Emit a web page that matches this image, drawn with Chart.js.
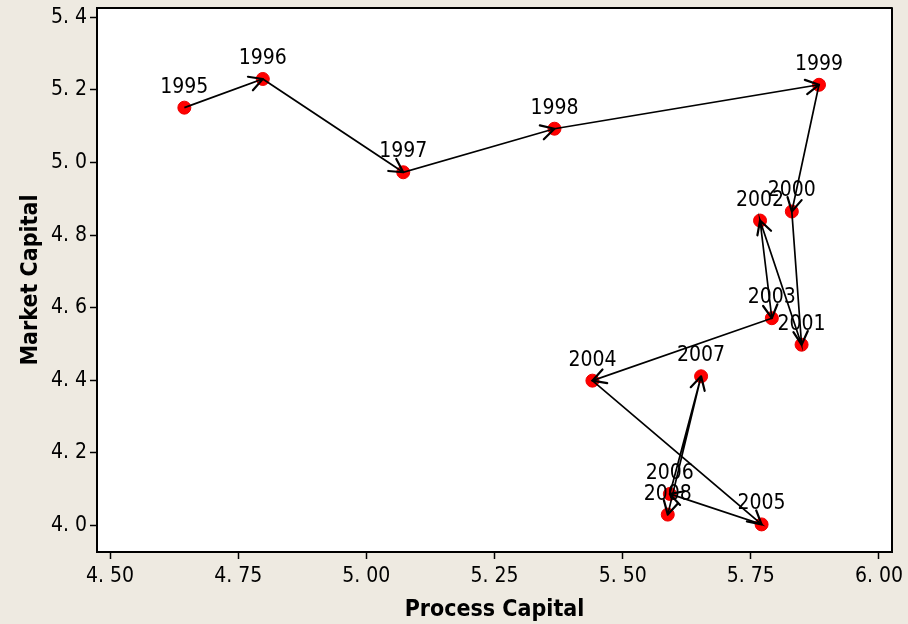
<!DOCTYPE html>
<html>
<head>
<meta charset="utf-8">
<script src="https://cdn.jsdelivr.net/npm/chart.js@4"></script>
<style>
  html, body { margin: 0; padding: 0; background: #eeeae1; }
  #wrap { width: 908px; height: 624px; }
</style>
</head>
<body>
<div id="wrap"><canvas id="chart" width="908" height="624"></canvas></div>
<script>
// values
const years = ["1995", "1996", "1997", "1998", "1999", "2000", "2001",
               "2002", "2003", "2004", "2005", "2006", "2007", "2008"];
const processCapital = [4.645, 4.798, 5.072, 5.367, 5.883, 5.830, 5.849,
                        5.768, 5.791, 5.441, 5.771, 5.592, 5.653, 5.588];
const marketCapital = [5.151, 5.230, 4.973, 5.093, 5.214, 4.865, 4.498,
                       4.840, 4.571, 4.399, 4.003, 4.087, 4.411, 4.030];
const xTicks = [4.50, 4.75, 5.00, 5.25, 5.50, 5.75, 6.00];
const yTicks = [4.0, 4.2, 4.4, 4.6, 4.8, 5.0, 5.2, 5.4];

const points = years.map((y, i) => ({ x: processCapital[i], y: marketCapital[i] }));

const FONT = "'DejaVu Sans Condensed', 'DejaVu Sans', sans-serif";
const LABEL_FONT = "'Liberation Sans Narrow', 'DejaVu Sans Condensed', sans-serif";

// white plot area, box border, arrowheads and year labels
const decor = {
  id: "decor",
  beforeDatasetsDraw(chart) {
    const { ctx, chartArea: a } = chart;
    ctx.save();
    ctx.fillStyle = "#ffffff";
    ctx.fillRect(a.left, a.top, a.right - a.left, a.bottom - a.top);
    ctx.restore();
  },
  afterDatasetsDraw(chart) {
    const { ctx, chartArea: a } = chart;
    const pts = chart.getDatasetMeta(0).data;

    ctx.save();
    // arrowheads
    ctx.strokeStyle = "#000";
    ctx.lineWidth = 2.2;
    ctx.lineCap = "round";
    ctx.lineJoin = "round";
    for (let i = 1; i < pts.length; i++) {
      const p0 = pts[i - 1], p1 = pts[i];
      const ang = Math.atan2(p1.y - p0.y, p1.x - p0.x);
      const len = 15, spread = 0.5;
      ctx.beginPath();
      ctx.moveTo(p1.x - len * Math.cos(ang - spread), p1.y - len * Math.sin(ang - spread));
      ctx.lineTo(p1.x, p1.y);
      ctx.lineTo(p1.x - len * Math.cos(ang + spread), p1.y - len * Math.sin(ang + spread));
      ctx.stroke();
    }

    // year labels
    ctx.fillStyle = "#000";
    ctx.font = "21px " + LABEL_FONT;
    ctx.textAlign = "center";
    ctx.textBaseline = "bottom";
    pts.forEach((p, i) => {
      ctx.fillText(years[i], p.x, p.y - 10);
    });

    // frame
    ctx.strokeStyle = "#000";
    ctx.lineWidth = 2;
    ctx.lineCap = "butt";
    ctx.strokeRect(a.left, a.top, a.right - a.left, a.bottom - a.top);
    ctx.restore();
  }
};

new Chart(document.getElementById("chart"), {
  type: "scatter",
  data: {
    datasets: [
      {
        label: "years",
        data: points,
        showLine: false,
        pointRadius: 6.5,
        pointBackgroundColor: "#ff0000",
        pointBorderColor: "#ee0000",
        pointBorderWidth: 1,
        order: 2
      },
      {
        label: "path",
        data: points,
        showLine: true,
        borderColor: "#000",
        borderWidth: 1.7,
        pointRadius: 0,
        fill: false,
        order: 1
      }
    ]
  },
  options: {
    responsive: false,
    animation: false,
    layout: { padding: { left: 0, right: 16, top: 8, bottom: 0 } },
    plugins: { legend: { display: false }, tooltip: { enabled: false } },
    scales: {
      x: {
        type: "linear",
        min: 4.4746,
        max: 6.0254,
        afterFit: s => { s.height = 72; s.paddingLeft = 0; s.paddingRight = 0; },
        afterBuildTicks: s => { s.ticks = xTicks.map(v => ({ value: v })); },
        grid: { display: true, drawOnChartArea: false, tickLength: 7, color: "#000", tickWidth: 1.5 },
        border: { display: true, color: "#000", width: 2 },
        ticks: {
          color: "#000",
          font: { family: FONT, size: 21 },
          padding: 5,
          maxRotation: 0,
          callback: v => v.toFixed(2).replace(".", ". ")
        },
        title: {
          display: true,
          text: "Process Capital",
          color: "#000",
          font: { family: FONT, size: 23, weight: "bold" },
          padding: { top: 0, bottom: 0 }
        }
      },
      y: {
        type: "linear",
        min: 3.927,
        max: 5.4255,
        afterFit: s => { s.width = 97; s.paddingTop = 0; s.paddingBottom = 0; },
        afterBuildTicks: s => { s.ticks = yTicks.map(v => ({ value: v })); },
        grid: { display: true, drawOnChartArea: false, tickLength: 7, color: "#000", tickWidth: 1.5 },
        border: { display: true, color: "#000", width: 2 },
        ticks: {
          color: "#000",
          font: { family: FONT, size: 21 },
          padding: 3,
          callback: v => v.toFixed(1).replace(".", ". ")
        },
        title: {
          display: true,
          text: "Market Capital",
          color: "#000",
          font: { family: FONT, size: 23, weight: "bold" },
          padding: { top: 17, bottom: 0 }
        }
      }
    }
  },
  plugins: [decor]
});
</script>
</body>
</html>
